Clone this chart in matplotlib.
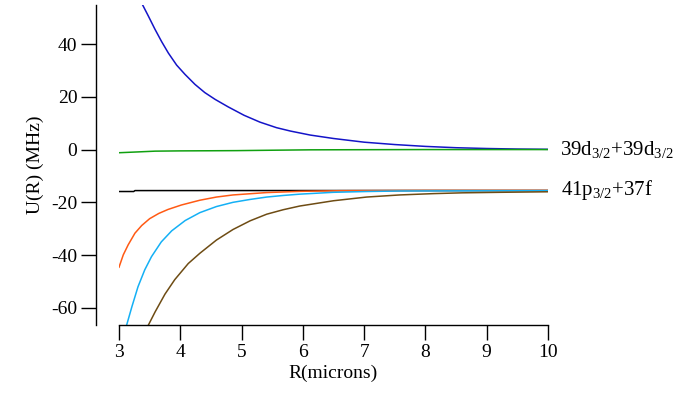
import numpy as np
import matplotlib
matplotlib.use('Agg')
import matplotlib.pyplot as plt

plt.rcParams['font.family'] = ['Liberation Serif', 'DejaVu Serif']
plt.rcParams['mathtext.default'] = 'regular'
plt.rcParams['axes.unicode_minus'] = False

# values
r_blue = [3.3, 3.386, 3.477, 3.587, 3.696, 3.805, 3.941, 4.077, 4.24, 4.40, 4.57, 4.78, 5.04,
          5.3, 5.57, 5.8, 6.12, 6.5, 7.0, 7.5, 8.0, 8.5, 9.0, 9.5, 10.0]
u_blue = [60, 54.8, 50.7, 45.6, 40.9, 36.6, 32.0, 28.5, 24.7, 21.6, 19.0, 16.2, 13.0,
          10.4, 8.3, 7.0, 5.5, 4.2, 2.8, 1.9, 1.2, 0.7, 0.4, 0.2, 0.1]

r_green = [3.0, 3.3, 3.59, 4.0, 4.5, 4.92, 5.5, 6.12, 7.0, 8.0, 10.0]
u_green = [-1.2, -0.9, -0.6, -0.5, -0.45, -0.4, -0.25, -0.1, -0.05, 0.0, 0.0]

r_black = [3.0, 3.24, 3.26, 10.0]
u_black = [-15.9, -15.9, -15.55, -15.5]

r_orange = [3.0, 3.07, 3.15, 3.26, 3.37, 3.5, 3.65, 3.8, 4.02, 4.32, 4.59, 4.86, 5.41, 5.95,
            6.6, 8.0, 10.0]
u_orange = [-44.6, -39.9, -36.1, -31.7, -28.8, -26.2, -24.2, -22.7, -21.0, -19.2, -18.0, -17.2,
            -16.3, -15.85, -15.6, -15.5, -15.5]

r_cyan = [3.05, 3.125, 3.21, 3.31, 3.42, 3.53, 3.69, 3.86, 4.08, 4.32, 4.59, 4.86, 5.14, 5.41,
          5.68, 5.95, 6.5, 7.04, 7.58, 8.4, 10.0]
u_cyan = [-70, -66.5, -59.6, -52.0, -45.6, -40.6, -35.0, -30.8, -26.9, -23.9, -21.6, -20.0,
          -18.9, -18.0, -17.4, -16.9, -16.2, -15.9, -15.7, -15.65, -15.6]

r_brown = [3.4, 3.48, 3.59, 3.75, 3.91, 4.13, 4.32, 4.59, 4.86, 5.14, 5.41, 5.68, 5.95, 6.5,
           7.04, 7.58, 8.13, 8.6, 9.22, 10.0]
u_brown = [-69, -66.5, -61.5, -54.8, -49.3, -43.2, -39.3, -34.3, -30.3, -27.0, -24.5, -22.8,
           -21.4, -19.4, -18.0, -17.2, -16.7, -16.4, -16.2, -16.0]

fig = plt.figure(figsize=(6.76, 4.0), dpi=100)
ax = fig.add_axes([119 / 676, 75 / 400, 429 / 676, 320 / 400])

lw = 1.1
ax.plot(r_blue, u_blue, color='#1414c8', lw=lw)
ax.plot(r_green, u_green, color='#10a010', lw=lw)
ax.plot(r_black, u_black, color='black', lw=lw)
ax.plot(r_orange, u_orange, color='#ff5a14', lw=lw)
ax.plot(r_cyan, u_cyan, color='#14b0f5', lw=lw)
ax.plot(r_brown, u_brown, color='#6e4c14', lw=lw)

ax.set_xlim(3, 10)
ax.set_ylim(-66.5, 54.8)
ax.set_xticks(range(3, 11))
ax.set_yticks([-60, -40, -20, 0, 20, 40])

ax.spines['top'].set_visible(False)
ax.spines['right'].set_visible(False)
ax.spines['left'].set_position(('outward', 16.5))
for s in ['left', 'bottom']:
    ax.spines[s].set_linewidth(1.0)
ax.tick_params(direction='out', length=10.5, width=1.0, labelsize=14, pad=3)

ax.set_xlabel('R(microns)', fontsize=14, labelpad=3)
ax.set_ylabel('U(R) (MHz)', fontsize=14, labelpad=5)

ax.text(10.19, 0, '$39d_{3/2}$+$39d_{3/2}$', fontsize=15, va='center', ha='left', clip_on=False)
ax.text(10.22, -15.3, '$41p_{3/2}$+37f', fontsize=15, va='center', ha='left', clip_on=False)

fig.savefig('out.png', dpi=100)
